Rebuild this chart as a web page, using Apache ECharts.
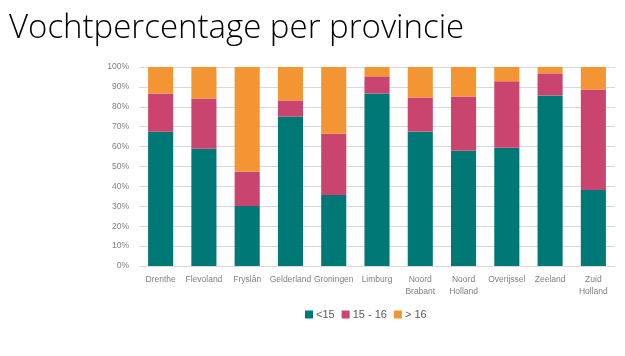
<!DOCTYPE html>
<html><head><meta charset="utf-8">
<script src="https://cdn.jsdelivr.net/npm/echarts@6/dist/echarts.min.js"></script>
<style>html,body{margin:0;padding:0;background:#fff}#c{width:625px;height:356px}</style>
</head><body><div id="c"></div>
<script>
const categories = ['Drenthe','Flevoland','Fryslân','Gelderland','Groningen','Limburg','Noord\nBrabant','Noord\nHolland','Overijssel','Zeeland','Zuid\nHolland'];
const seriesNames = ['<15','15 - 16','> 16'];
const below15 = [67.5, 58.9, 30.1, 75.1, 35.7, 86.7, 67.5, 57.9, 59.4, 85.7, 38.2];
const from15to16 = [19.2, 25.3, 17.2, 8.1, 30.8, 8.6, 17.2, 27.3, 33.4, 11.1, 50.5];
const above16 = [13.3, 15.8, 52.7, 16.8, 33.5, 4.7, 15.3, 14.8, 7.2, 3.2, 11.3];
const colors = ['#007876', '#C9446E', '#F29532'];

const chart = echarts.init(document.getElementById('c'), null, {renderer:'canvas'});
const mk = (name, data, i) => ({
  name, type:'bar', stack:'a', data, barWidth:'58%',
  itemStyle:{color:colors[i]}
});
chart.setOption({
  animation:false,
  title:{text:'Vochtpercentage per provincie', left:4, top:7,
    textStyle:{fontFamily:'Open Sans', fontWeight:300, fontSize:33, color:'#000'}},
  grid:{left:139, right:10, top:67, bottom:90, containLabel:false},
  legend:{top:304, left:300, itemWidth:8, itemHeight:8, itemGap:7,
    icon:'rect', textStyle:{fontSize:11, color:'#595959', fontFamily:'Liberation Sans', padding:[0,0,0,-2]},
    data:seriesNames},
  xAxis:{type:'category', data:categories,
    axisLine:{show:false}, axisTick:{show:false},
    axisLabel:{fontSize:8.5, color:'#7f7f7f', interval:0, margin:8, lineHeight:12, fontFamily:'Liberation Sans'}},
  yAxis:{type:'value', min:0, max:100, interval:10,
    axisLabel:{formatter:'{value}%', fontSize:8.5, color:'#7f7f7f', margin:10, fontFamily:'Liberation Sans'},
    splitLine:{lineStyle:{color:'#d9d9d9', width:1}},
    axisLine:{show:false}, axisTick:{show:false}},
  series:[mk(seriesNames[0], below15, 0), mk(seriesNames[1], from15to16, 1), mk(seriesNames[2], above16, 2)]
});
</script></body></html>
